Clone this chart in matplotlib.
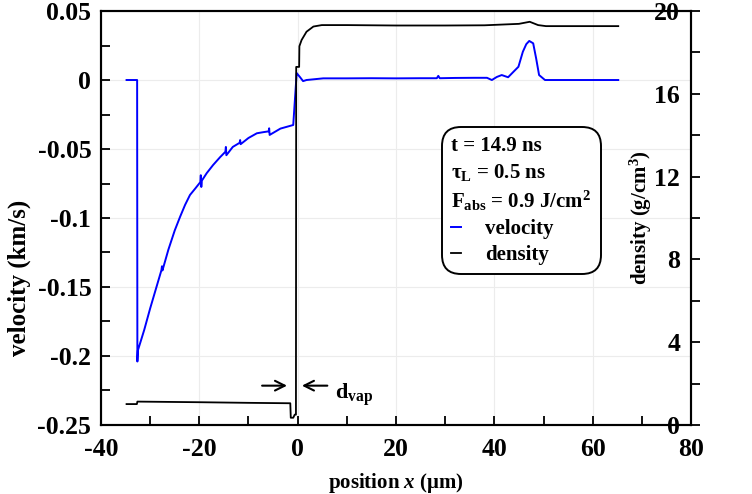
import matplotlib
matplotlib.use("Agg")
import matplotlib.pyplot as plt
from matplotlib.lines import Line2D
from matplotlib.ticker import MultipleLocator

plt.rcParams["font.family"] = ["Liberation Serif", "DejaVu Serif"]
plt.rcParams["font.weight"] = "bold"
plt.rcParams["mathtext.fontset"] = "custom"
plt.rcParams["mathtext.rm"] = "Liberation Serif:bold"
plt.rcParams["mathtext.bf"] = "Liberation Serif:bold"
plt.rcParams["mathtext.it"] = "Liberation Serif:bold:italic"
plt.rcParams["axes.unicode_minus"] = False

# velocity profile (km/s) vs position (um)
vel_x = [-34.8, -32.65, -32.6, -32.5, -31.2, -30.0, -28.8, -27.7, -27.6, -27.5,
         -26.3, -25.0, -23.9, -22.9, -21.9, -20.8, -19.8, -19.7, -19.6, -19.5,
         -18.5, -17.2, -15.8, -14.7, -14.6, -14.5, -13.2, -11.8, -11.7, -11.6,
         -10.0, -8.3, -7.0, -5.9, -5.8, -5.7, -3.5, -0.9, -0.2, 0.45, 1.1,
         1.8, 5.2, 10.0, 15.0, 20.0, 25.0, 28.3, 28.6, 28.9, 32.0, 36.0, 38.5,
         39.5, 40.5, 41.5, 42.8, 43.9, 44.9, 45.8, 46.5, 47.1, 47.9, 48.5,
         49.1, 50.3, 55.0, 60.0, 65.2]
vel_v = [0.0, 0.0, -0.204, -0.196, -0.181, -0.1655, -0.151, -0.1377, -0.1350, -0.1380,
         -0.123, -0.109, -0.099, -0.0905, -0.0833, -0.0785, -0.0740, -0.0690, -0.0775, -0.0730,
         -0.0675, -0.0616, -0.0560, -0.0520, -0.0485, -0.0545, -0.0485, -0.0455, -0.0435, -0.0465,
         -0.0420, -0.0386, -0.0378, -0.0372, -0.0350, -0.0398, -0.0352, -0.0326, 0.005, 0.0022, -0.0008,
         0.0, 0.0012, 0.0012, 0.0013, 0.0012, 0.0013, 0.0013, 0.0030, 0.0013, 0.0015, 0.0016, 0.0016,
         0.0, 0.0022, 0.0036, 0.0020, 0.0060, 0.0096, 0.0205, 0.0260, 0.0283, 0.0266, 0.0157,
         0.0036, 0.0, 0.0, 0.0, 0.0]

# density profile (g/cm^3) vs position (um)
den_x = [-34.8, -32.7, -32.6, -20.0, -10.0, -1.5, -1.4, -0.9, -0.6, -0.35, -0.3,
         0.3, 0.35, 0.8, 1.8, 3.2, 4.9, 10.0, 20.0, 30.0, 38.0, 42.0, 45.0,
         47.2, 48.9, 50.5, 65.2]
den_d = [1.01, 1.01, 1.13, 1.10, 1.07, 1.05, 0.35, 0.35, 0.50, 0.50, 17.3,
         17.3, 18.3, 18.6, 19.0, 19.25, 19.32, 19.32, 19.30, 19.30, 19.31, 19.35, 19.38,
         19.48, 19.32, 19.27, 19.27]

vel_ticks = [0.05, 0.0, -0.05, -0.1, -0.15, -0.2, -0.25]
vel_tick_labels = ["0.05", "0", "-0.05", "-0.1", "-0.15", "-0.2", "-0.25"]
den_ticks = [0, 4, 8, 12, 16, 20]
x_ticks = [-40, -20, 0, 20, 40, 60, 80]

params = ["t = 14.9 ns",
          r"τ$_\mathbf{L}$ = 0.5 ns",
          r"F$_\mathbf{abs}$ = 0.9 J/cm$^\mathbf{2}$"]

fig = plt.figure(figsize=(7.52, 4.94), dpi=100)
ax = fig.add_axes([0.1343, 0.1397, 0.7846, 0.8380])
ax2 = ax.twinx()

ax.plot(vel_x, vel_v, color="#0000ff", lw=1.4)
ax2.plot(den_x, den_d, color="black", lw=1.3)

ax.set_xlim(-40, 80)
ax.set_ylim(-0.25, 0.05)
ax2.set_ylim(0, 20)

ax.set_xticks(x_ticks)
ax.set_xticklabels([str(t) for t in x_ticks])
ax.xaxis.set_minor_locator(MultipleLocator(10))
ax.set_yticks(vel_ticks)
ax.set_yticklabels(vel_tick_labels)
ax.yaxis.set_minor_locator(MultipleLocator(0.025))
ax2.set_yticks(den_ticks)
ax2.set_yticklabels([str(t) for t in den_ticks])
ax2.yaxis.set_minor_locator(MultipleLocator(2))

ax.grid(True, which="major", color="#ececec", lw=0.8)
ax.set_axisbelow(True)

ax.tick_params(axis="both", which="both", direction="in", length=6.5, width=1.3,
               labelsize=18.5, top=False, right=False)
ax.tick_params(axis="y", pad=7)
ax.tick_params(axis="x", pad=9.5)
ax2.tick_params(axis="y", which="both", direction="out", length=6.5, width=1.3,
                labelsize=18.5, pad=-14.4)
plt.setp(ax2.get_yticklabels(), ha="right")

for a in (ax, ax2):
    for s in a.spines.values():
        s.set_linewidth(1.5)

ax.set_xlabel(r"position $\mathit{x}$ (μm)", fontsize=15, fontweight="bold")
ax.xaxis.set_label_coords(0.5, -0.11)
ax.set_ylabel("velocity (km/s)", fontsize=18, fontweight="bold")
ax.yaxis.set_label_coords(-0.119, 0.355)
ax2.set_ylabel(r"density (g/cm$^\mathbf{3}$)", fontsize=15, fontweight="bold")
ax2.yaxis.set_label_coords(0.893, 0.5)

# d_vap marker arrows
arr = dict(arrowstyle="->,head_length=0.7,head_width=0.35", color="black", lw=1.5)
ax.annotate("", xy=(-1.6, -0.2215), xytext=(-7.8, -0.2215), arrowprops=arr)
ax.annotate("", xy=(0.3, -0.2215), xytext=(6.6, -0.2215), arrowprops=arr)
ax.text(7.6, -0.228, r"d$_\mathbf{vap}$", fontsize=16, fontweight="bold", va="center")

# legend: parameter lines without handles, then the two curves
blank = Line2D([], [], color="none")
handles = [blank, blank, blank,
           Line2D([], [], color="#0000ff", lw=1.4),
           Line2D([], [], color="black", lw=1.3)]
labels = params + ["velocity", "density"]
leg = ax2.legend(handles, labels, loc="upper left", bbox_to_anchor=(0.578, 0.72),
                 fontsize=15, handlelength=0.45, handletextpad=1.15,
                 labelspacing=0.28, borderpad=0.45, borderaxespad=0,
                 frameon=True, fancybox=True, framealpha=1, edgecolor="black")
leg.get_frame().set_linewidth(1.4)
leg.get_frame().set_boxstyle("round,pad=0,rounding_size=0.9")
for hp in leg._legend_handle_box.get_children()[0].get_children()[:3]:
    hp.sep = 0
    hp.get_children()[0].width = 0

fig.savefig("out.png", dpi=100)
